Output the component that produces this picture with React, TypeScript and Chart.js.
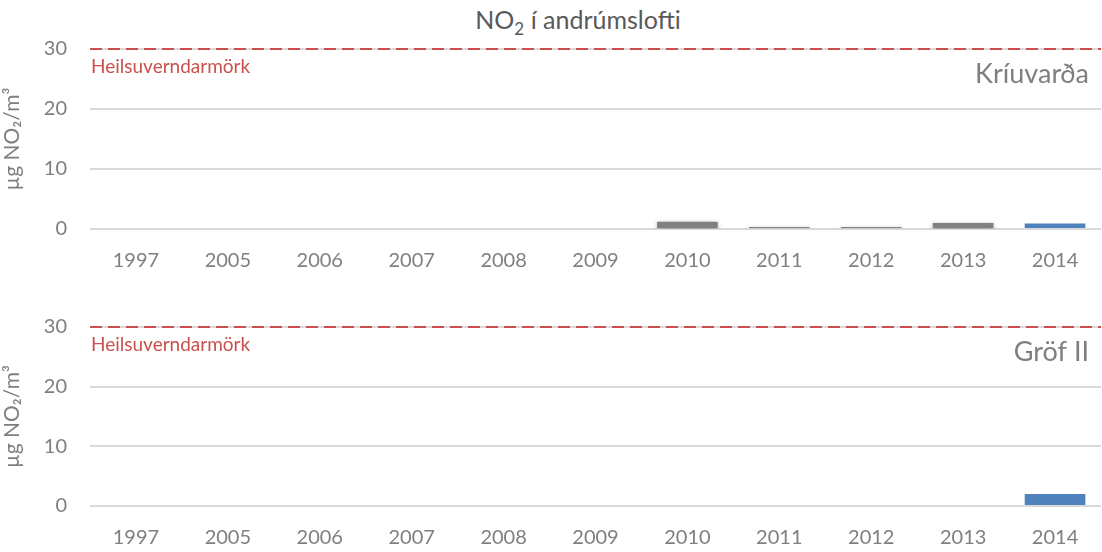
import React, { useEffect, useRef } from "react";
import { Chart, registerables } from "chart.js";

Chart.register(...registerables);

const years = ["1997", "2005", "2006", "2007", "2008", "2009", "2010", "2011", "2012", "2013", "2014"];
const kriuvardaGray = [null, null, null, null, null, null, 1.2, 0.35, 0.35, 1.0, null];
const kriuvardaBlue = [null, null, null, null, null, null, null, null, null, null, 0.9];
const grofGray = [null, null, null, null, null, null, null, null, null, null, null];
const grofBlue = [null, null, null, null, null, null, null, null, null, null, 2.0];
const yTicks = [0, 10, 20, 30];
const limitValue = 30;
const limitLabel = "Heilsuverndarmörk";
const stations = ["Kríuvarða", "Gröf II"];

const FONT = "Lato, 'Open Sans', sans-serif";
const GREY = "#7f7f7f";
const RED = "#c9504d";

function makePanelPlugin(station: string) {
  return {
    id: "panelDecor",
    beforeDatasetDraw(chart: any, args: any) {
      const ctx = chart.ctx;
      ctx.save();
      if (args.index === 0) {
        ctx.shadowColor = "rgba(0,0,0,0.35)";
        ctx.shadowBlur = 4;
        ctx.shadowOffsetX = 0;
        ctx.shadowOffsetY = 1;
      }
    },
    afterDatasetDraw(chart: any) {
      chart.ctx.restore();
    },
    afterDraw(chart: any) {
      const { ctx, chartArea, scales } = chart;
      const y = scales.y.getPixelForValue(limitValue);
      ctx.save();
      ctx.strokeStyle = RED;
      ctx.lineWidth = 2;
      ctx.setLineDash([12, 6]);
      ctx.beginPath();
      ctx.moveTo(chartArea.left, y);
      ctx.lineTo(chartArea.right, y);
      ctx.stroke();
      ctx.setLineDash([]);
      ctx.fillStyle = RED;
      ctx.font = `19px ${FONT}`;
      ctx.textBaseline = "middle";
      ctx.textAlign = "left";
      ctx.fillText(limitLabel, chartArea.left + 1, y + 18);
      ctx.fillStyle = GREY;
      ctx.font = `27px ${FONT}`;
      ctx.textAlign = "right";
      ctx.fillText(station, chartArea.right - 12, y + 25);
      ctx.restore();
    },
  };
}

function Panel({ gray, blue, station, top, height }: any) {
  const ref = useRef<HTMLCanvasElement>(null);
  useEffect(() => {
    if (!ref.current) return;
    const chart = new Chart(ref.current, {
      type: "bar",
      data: {
        labels: years,
        datasets: [
          { data: gray, backgroundColor: "#808080", borderWidth: 0 },
          { data: blue, backgroundColor: "#4f81bd", borderWidth: 0 },
        ],
      },
      options: {
        animation: false,
        responsive: false,
        maintainAspectRatio: false,
        datasets: { bar: { categoryPercentage: 1, barPercentage: 0.66 } },
        layout: { padding: { right: 1, top: 0, left: 0, bottom: 0 } },
        plugins: { legend: { display: false }, tooltip: { enabled: false }, title: { display: false } },
        scales: {
          x: {
            stacked: true,
            afterFit: (scale: any) => {
              scale.height = 50;
            },
            grid: { display: false, drawTicks: false },
            border: { display: false },
            ticks: { color: GREY, font: { family: FONT, size: 20 }, padding: 20, maxRotation: 0, autoSkip: false },
          },
          y: {
            stacked: true,
            min: 0,
            max: 30,
            afterBuildTicks: (scale: any) => {
              scale.ticks = yTicks.map((v) => ({ value: v }));
            },
            afterFit: (scale: any) => {
              scale.width = 90;
            },
            grid: { color: "#d9d9d9", lineWidth: 2, drawTicks: false },
            border: { display: false },
            ticks: { color: GREY, font: { family: FONT, size: 20 }, padding: 23 },
            title: {
              display: true,
              text: "µg NO₂/m³",
              color: GREY,
              font: { family: FONT, size: 21 },
              padding: { top: 0, bottom: 0 },
            },
          },
        },
      },
      plugins: [makePanelPlugin(station)],
    });
    return () => chart.destroy();
  }, []);
  return (
    <canvas
      ref={ref}
      width={1102}
      height={height}
      style={{ position: "absolute", left: 0, top, width: 1102, height }}
    />
  );
}

export default function App() {
  return (
    <div style={{ position: "fixed", left: 0, top: 0, width: 1102, height: 552, background: "#fff", overflow: "hidden" }}>
      <div
        style={{
          position: "absolute",
          left: 54,
          top: 4,
          width: 1048,
          textAlign: "center",
          fontFamily: FONT,
          fontSize: 25,
          color: "#595959",
        }}
      >
        NO<sub style={{ fontSize: 17 }}>2</sub> í andrúmslofti
      </div>
      <Panel gray={kriuvardaGray} blue={kriuvardaBlue} station={stations[0]} top={14} height={265} />
      <Panel gray={grofGray} blue={grofBlue} station={stations[1]} top={292} height={264} />
    </div>
  );
}
